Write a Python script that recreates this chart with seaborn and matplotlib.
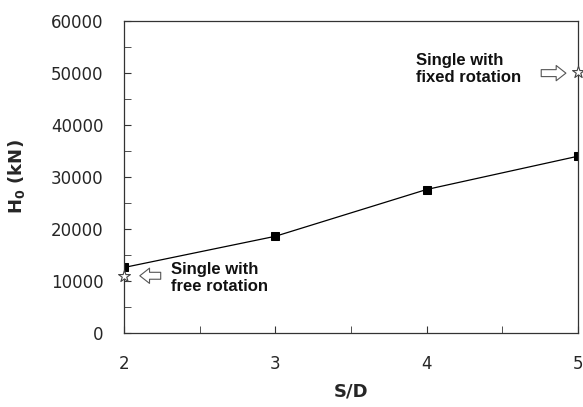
import matplotlib
matplotlib.use('Agg')
from matplotlib import pyplot as plt
import seaborn as sns
import pandas as pd

sd = [2, 3, 4, 5]
h0 = [12600, 18600, 27600, 34000]
single_sd = [2, 5]
single_h0 = [11000, 50200]

sns.set_style('ticks')
plt.rcParams['font.family'] = ['DejaVu Sans']

fig = plt.figure(figsize=(5.83, 4.07), dpi=100)
ax = fig.add_axes([0.213, 0.182, 0.778, 0.766])

df = pd.DataFrame({'S/D': sd, 'H0': h0})
sns.lineplot(data=df, x='S/D', y='H0', ax=ax, color='black', lw=0.9,
             marker='s', markersize=5.5, markeredgecolor='black')
ax.scatter(single_sd, single_h0, marker='*', s=80, facecolor='white',
           edgecolor='#444444', linewidths=0.8, zorder=5, clip_on=False)

ax.set_xlim(2, 5)
ax.set_ylim(0, 60000)
ax.set_xticks([2, 3, 4, 5])
ax.set_xticks([2.5, 3.5, 4.5], minor=True)
ax.set_yticks(range(0, 60001, 10000))
ax.set_yticks(range(5000, 60000, 10000), minor=True)
ax.tick_params(which='both', direction='in', labelsize=12, color='#333333')
ax.tick_params(axis='y', which='major', length=5, pad=15)
ax.tick_params(axis='x', which='major', length=5, pad=16)
ax.tick_params(which='minor', length=5)
for s in ax.spines.values():
    s.set_linewidth(0.9)
    s.set_color('#333333')

ax.set_xlabel('S/D', fontsize=13, fontweight='bold', labelpad=7)
ax.set_ylabel('H$_\\mathbf{0}$ (kN)', fontsize=13, fontweight='bold', labelpad=17)

arrow = dict(arrowstyle='simple,head_length=0.7,head_width=1.1,tail_width=0.5',
             fc='white', ec='#555555', lw=0.8)
ax.annotate('', xy=(2.085, 11000), xytext=(2.26, 11000), arrowprops=arrow)
ax.annotate('', xy=(4.94, 50000), xytext=(4.74, 50000), arrowprops=arrow)

ax.text(2.31, 10600, 'Single with\nfree rotation', fontsize=12, fontweight='bold',
        family='Liberation Sans', va='center', ha='left', linespacing=1.15,
        color='#111111')
ax.text(3.93, 50800, 'Single with\nfixed rotation', fontsize=12, fontweight='bold',
        family='Liberation Sans', va='center', ha='left', linespacing=1.15,
        color='#111111')

plt.savefig('out.png', dpi=100)
